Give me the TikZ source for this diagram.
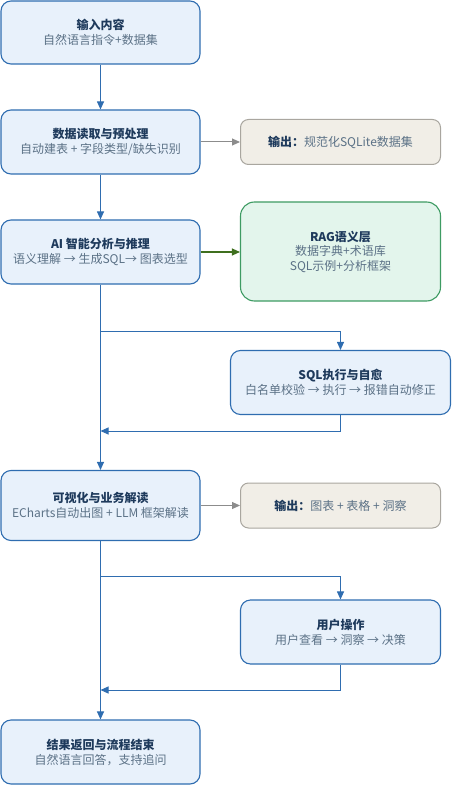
\documentclass[tikz,border=0pt]{standalone}
\usepackage{fontspec}
\setmainfont{Noto Sans CJK SC}
\usetikzlibrary{arrows.meta,positioning}
\definecolor{bfill}{HTML}{E8F1FB}
\definecolor{bdraw}{HTML}{2F6DB0}
\definecolor{ttl}{HTML}{1E3A5C}
\definecolor{sub}{HTML}{5B7186}
\definecolor{ofill}{HTML}{F1EEE7}
\definecolor{odraw}{HTML}{A9A69F}
\definecolor{gfill}{HTML}{E3F5EC}
\definecolor{gdraw}{HTML}{3E9B63}
\definecolor{garrow}{HTML}{3F6F1E}
\definecolor{grayarrow}{HTML}{8C8C8C}
\tikzset{
  box/.style={draw=bdraw, fill=bfill, line width=1.1pt, rounded corners=10pt, align=center, inner sep=0pt, font=\fontsize{12}{15}\selectfont},
  outbox/.style={draw=odraw, fill=ofill, line width=1pt, rounded corners=8pt, align=center, inner sep=0pt, font=\fontsize{12}{15}\selectfont},
  ragbox/.style={draw=gdraw, fill=gfill, line width=1.1pt, rounded corners=14pt, align=center, inner sep=0pt, font=\fontsize{12}{14.5}\selectfont},
  flow/.style={draw=bdraw, line width=1pt, -{Triangle[length=8pt,width=7pt]}},
  grayflow/.style={draw=grayarrow, line width=1pt, -{Triangle[length=8pt,width=7pt]}},
  greenflow/.style={draw=garrow, line width=1.1pt, -{Triangle[length=8pt,width=7pt]}},
}
\newcommand{\tl}[1]{\textcolor{ttl}{\bfseries #1}}
\newcommand{\sbt}[1]{\textcolor{sub}{#1}}
\begin{document}
\begin{tikzpicture}[x=1pt,y=-1pt]
\useasboundingbox (0,0) rectangle (452,786);
\node[box, minimum width=199pt, minimum height=63pt] (b1) at (100.5,32.5) {\tl{输入内容}\\\sbt{自然语言指令+数据集}};
\node[box, minimum width=199pt, minimum height=64pt] (b2) at (100.5,142) {\tl{数据读取与预处理}\\\sbt{自动建表 + 字段类型/缺失识别}};
\node[box, minimum width=199pt, minimum height=64pt] (b3) at (100.5,252) {\tl{AI 智能分析与推理}\\\sbt{语义理解 → 生成SQL→ 图表选型}};
\node[outbox, minimum width=200pt, minimum height=45pt] (o1) at (340.5,142) {\tl{输出：}\sbt{规范化SQLite数据集}};
\node[ragbox, minimum width=200pt, minimum height=99pt] (rag) at (340.5,251.5) {\tl{RAG语义层}\\\sbt{数据字典+术语库}\\\sbt{SQL示例+分析框架}};
\node[box, minimum width=220pt, minimum height=64pt] (sql) at (340.5,382.5) {\tl{SQL执行与自愈}\\\sbt{白名单校验 → 执行 → 报错自动修正}};
\node[box, minimum width=199pt, minimum height=70pt] (b4) at (100.5,505.5) {\tl{可视化与业务解读}\\\sbt{ECharts自动出图 + LLM 框架解读}};
\node[outbox, minimum width=200pt, minimum height=45pt] (o2) at (340.5,505.5) {\tl{输出：}\sbt{图表 + 表格 + 洞察}};
\node[box, minimum width=200pt, minimum height=64pt] (user) at (340.5,632) {\tl{用户操作}\\\sbt{用户查看 → 洞察 → 决策}};
\node[box, minimum width=199pt, minimum height=64pt] (b5) at (100.5,752) {\tl{结果返回与流程结束}\\\sbt{自然语言回答，支持追问}};
\coordinate (j1) at (100.5,331);
\coordinate (j2) at (100.5,431);
\coordinate (j3) at (100.5,576);
\coordinate (j4) at (100.5,690);
\draw[flow] (b1) -- (b2);
\draw[flow] (b2) -- (b3);
\draw[flow] (b3) -- (b4);
\draw[flow] (b4) -- (b5);
\draw[grayflow] (b2) -- (o1);
\draw[grayflow] (b4) -- (o2);
\draw[greenflow] (b3.east) -- (rag.west |- b3.east);
\draw[flow] (j1) -| (sql.north);
\draw[flow] (sql.south) |- (j2);
\draw[flow] (j3) -| (user.north);
\draw[flow] (user.south) |- (j4);
\end{tikzpicture}
\end{document}
